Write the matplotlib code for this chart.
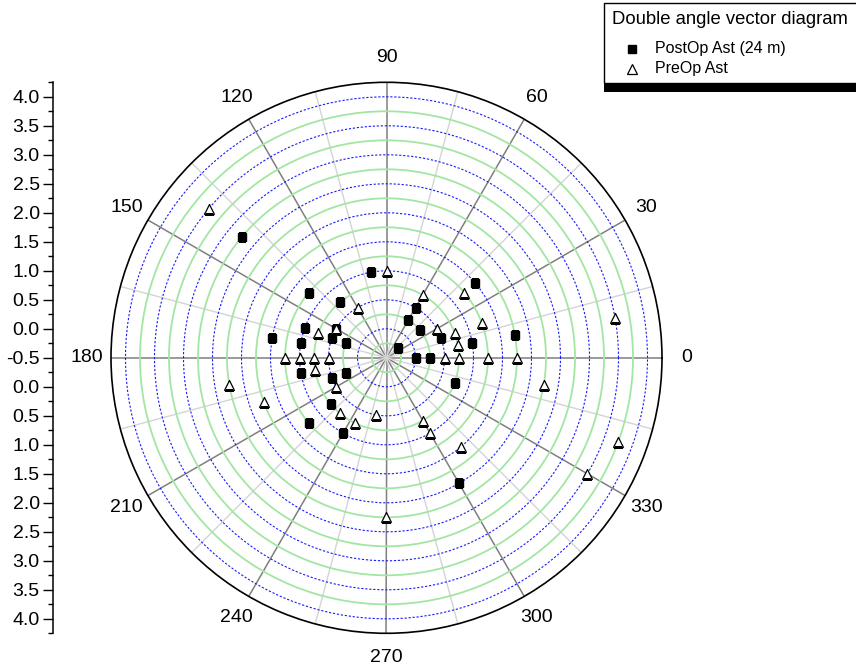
import numpy as np
import matplotlib
matplotlib.use("Agg")
import matplotlib.pyplot as plt
from matplotlib.patches import Rectangle
from matplotlib.lines import Line2D

plt.rcParams['font.family'] = ['Liberation Sans', 'DejaVu Sans']

# ---- data (double-angle, degrees ; magnitude) ----
post_theta = [40, 60, 60, 40, 20, 10, 10, 40, 0, 0, 340, 300,
              100, 140, 130, 140, 160, 150, 160, 160, 170, 170,
              190, 200, 200, 220, 220, 240]
post_r = [1.5, 0.5, 0.25, 0.25, 0.5, 1.0, 1.75, -0.25, 0.0, 0.25, 0.75, 2.0,
          1.0, 1.25, 0.75, 2.75, 1.0, 0.5, 0.5, 0.25, 1.0, 1.5,
          1.0, 0.5, 0.25, 0.75, 1.25, 1.0]

pre_theta = [90, 60, 40, 20, 30, 20, 10, 0, 0, 0, 0, 350, 300, 300, 310,
             260, 340, 330, 270, 10, 120, 160, 150, 180, 180, 180, 180,
             190, 190, 210, 200, 230, 244, 140]
pre_r = [1.0, 0.75, 1.25, 1.25, 0.5, 0.75, 0.75, 0.5, 0.75, 1.25, 1.75, 2.25,
         0.75, 1.0, 1.5, 0.5, 3.75, 3.5, 2.25, 3.5, 0.5, 0.75, 0.5, 1.25,
         1.0, 0.75, 0.5, 0.75, 2.25, 0.5, 1.75, 0.75, 0.75, 3.5]

angle_labels = [0, 30, 60, 90, 120, 150, 180, 210, 240, 270, 300, 330]
r_min, r_max = -0.5, 4.25
r_major = [0.0, 0.5, 1.0, 1.5, 2.0, 2.5, 3.0, 3.5, 4.0]
r_minor = [-0.25, 0.25, 0.75, 1.25, 1.75, 2.25, 2.75, 3.25, 3.75]
side_labels = ['-0.5', '0.0', '0.5', '1.0', '1.5', '2.0', '2.5', '3.0', '3.5', '4.0']

W, H = 856, 672
fig = plt.figure(figsize=(W / 100, H / 100), dpi=100)

cx, cy, R = 386.5, 672 - 357.8, 275.5
ax = fig.add_axes([(cx - R) / W, (cy - R) / H, 2 * R / W, 2 * R / H],
                  projection='polar')
ax.set_ylim(r_min, r_max)

# radial grid
ax.set_yticks(r_major)
ax.set_yticks(r_minor, minor=True)
ax.set_yticklabels([])
ax.tick_params(axis='y', which='both', length=0)
ax.yaxis.grid(True, which='major', color='#1a1aff', linestyle=(0, (2.0, 1.6)), linewidth=0.8)
ax.yaxis.grid(True, which='minor', color='#a3e6a3', linestyle='-', linewidth=1.3)

# angular grid
ax.set_xticks(np.deg2rad(np.arange(0, 360, 30)))
ax.set_xticks(np.deg2rad(np.arange(15, 360, 30)), minor=True)
ax.set_xticklabels([])
ax.xaxis.grid(True, which='major', color='#7f7f7f', linewidth=1.1)
ax.xaxis.grid(True, which='minor', color='#d4d4d4', linewidth=1.0)
ax.tick_params(axis='x', which='major', direction='in', length=6, width=1.1, color='black')
ax.tick_params(axis='x', which='minor', direction='in', length=3.5, width=1.0, color='black')
ax.spines['polar'].set_linewidth(1.2)
ax.spines['polar'].set_color('black')
ax.set_axisbelow(True)

# data
ax.plot(np.deg2rad(post_theta), post_r, linestyle='none', marker='s',
        markersize=5.5, color='black', zorder=3, label='PostOp Ast (24 m)')
ax.plot(np.deg2rad(pre_theta), pre_r, linestyle='none', marker='^',
        markersize=7.5, markerfacecolor='white', markeredgecolor='black',
        markeredgewidth=0.9, zorder=4, label='PreOp Ast')

# angle labels
fac = 300 / R
for a in angle_labels:
    t = np.deg2rad(a)
    ax.text(0.5 + 0.5 * fac * np.cos(t), 0.5 + 0.5 * fac * np.sin(t), str(a),
            transform=ax.transAxes, ha='center', va='center', fontsize=14)

# left radial scale
lx = 53 / W
ax2 = fig.add_axes([lx, (cy - R) / H, 0.001, 2 * R / H])
ax2.set_ylim(-(r_max - r_min), r_max - r_min)
ax2.set_xlim(0, 1)
for s in ['top', 'right', 'bottom']:
    ax2.spines[s].set_visible(False)
ax2.spines['left'].set_linewidth(1.1)
ax2.patch.set_visible(False)
ax2.set_xticks([])
vals = [float(s) for s in side_labels]
pos = [v - r_min for v in vals]
ticks_pos = sorted(set([p for p in pos] + [-p for p in pos]))
lab_map = {}
for s, p in zip(side_labels, pos):
    lab_map[p] = s
    lab_map[-p] = s
ax2.set_yticks(ticks_pos)
ax2.set_yticklabels([lab_map[p] for p in ticks_pos])
mpos = [v - r_min for v in r_minor] + [r_max - r_min]
ax2.set_yticks(sorted(set(mpos + [-m for m in mpos])), minor=True)
ax2.tick_params(axis='y', which='major', length=7, width=1.0, labelsize=14, pad=2.5)
ax2.tick_params(axis='y', which='minor', length=3.5, width=1.0)

# legend box with shadow
def fx(px):
    return px / W

def fy(py):
    return 1 - py / H

fig.add_artist(Rectangle((fx(604), fy(91.5)), fx(270), fy(75) - fy(91.5),
                         transform=fig.transFigure, facecolor='black',
                         edgecolor='none', zorder=10))
fig.add_artist(Rectangle((fx(604), fy(83)), fx(270), fy(3) - fy(83),
                         transform=fig.transFigure, facecolor='white',
                         edgecolor='black', linewidth=1.0, zorder=11))
fig.text(fx(612), fy(20), 'Double angle vector diagram', fontsize=13.3,
         ha='left', va='center', zorder=12)
fig.add_artist(Line2D([fx(632)], [fy(48.5)], transform=fig.transFigure,
                      marker='s', markersize=5.5, color='black',
                      linestyle='none', zorder=12))
fig.add_artist(Line2D([fx(632)], [fy(69)], transform=fig.transFigure,
                      marker='^', markersize=7, markerfacecolor='white',
                      markeredgecolor='black', markeredgewidth=0.9,
                      linestyle='none', zorder=12))
fig.text(fx(655), fy(48.5), 'PostOp Ast (24 m)', fontsize=11.5,
         ha='left', va='center', zorder=12)
fig.text(fx(655), fy(69), 'PreOp Ast', fontsize=11.5,
         ha='left', va='center', zorder=12)

fig.savefig('out.png', dpi=100)
